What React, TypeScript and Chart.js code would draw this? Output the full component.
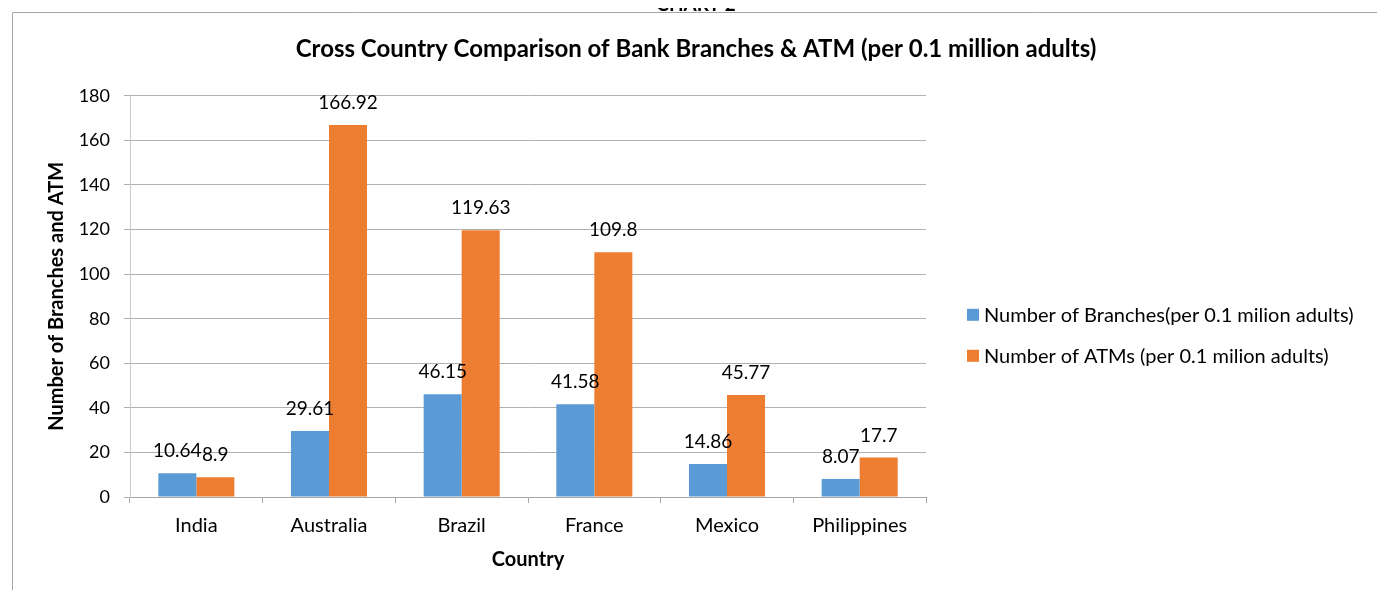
import React, { useEffect, useRef } from 'react';
import { Chart, registerables } from 'chart.js';

Chart.register(...registerables);

const categories = ['India', 'Australia', 'Brazil', 'France', 'Mexico', 'Philippines'];
const branches = [10.64, 29.61, 46.15, 41.58, 14.86, 8.07];
const atms = [8.9, 166.92, 119.63, 109.8, 45.77, 17.7];
const seriesNames = [
  'Number of Branches(per 0.1 milion adults)',
  'Number of ATMs (per 0.1 milion adults)',
];
const seriesColors = ['#5B9BD5', '#ED7D31'];
const yMin = 0;
const yMax = 180;
const yStep = 20;
const captionText = 'CHART 2';

const FONT = 'Lato, "Liberation Sans", sans-serif';

const framePlugin = {
  id: 'frame',
  afterDraw(chart: any) {
    const ctx = chart.ctx;
    ctx.save();
    ctx.strokeStyle = '#A6A6A6';
    ctx.lineWidth = 1;
    ctx.beginPath();
    ctx.moveTo(12.5, chart.height + 5);
    ctx.lineTo(12.5, 12.5);
    ctx.lineTo(1379.5, 12.5);
    ctx.lineTo(1379.5, chart.height + 5);
    ctx.stroke();
    ctx.font = `bold 19px ${FONT}`;
    ctx.fillStyle = '#000000';
    ctx.textAlign = 'center';
    ctx.textBaseline = 'alphabetic';
    ctx.fillText(captionText, 696, 11);
    ctx.restore();
  },
};

const dataLabelPlugin = {
  id: 'dataLabels',
  afterDatasetsDraw(chart: any) {
    const ctx = chart.ctx;
    ctx.save();
    ctx.font = `19px ${FONT}`;
    ctx.fillStyle = '#000';
    ctx.textAlign = 'center';
    ctx.textBaseline = 'alphabetic';
    chart.data.datasets.forEach((ds: any, di: number) => {
      const meta = chart.getDatasetMeta(di);
      meta.data.forEach((bar: any, i: number) => {
        ctx.fillText(String(ds.data[i]), bar.x, bar.y - 16);
      });
    });
    ctx.restore();
  },
};

const legendPlugin = {
  id: 'customLegend',
  afterDraw(chart: any) {
    const ctx = chart.ctx;
    const area = chart.chartArea;
    ctx.save();
    ctx.font = `20px ${FONT}`;
    ctx.textBaseline = 'middle';
    ctx.textAlign = 'left';
    chart.data.datasets.forEach((ds: any, i: number) => {
      const x = area.right + 41;
      const y = area.top + 219 + i * 41;
      ctx.fillStyle = ds.backgroundColor;
      ctx.fillRect(x, y - 6, 12, 12);
      ctx.fillStyle = '#000';
      ctx.fillText(ds.label, x + 17, y + 1);
    });
    ctx.restore();
  },
};

export default function App() {
  const canvasRef = useRef<HTMLCanvasElement | null>(null);

  useEffect(() => {
    if (!canvasRef.current) return;
    const chart = new Chart(canvasRef.current, {
      type: 'bar',
      data: {
        labels: categories,
        datasets: [
          {
            label: seriesNames[0],
            data: branches,
            backgroundColor: seriesColors[0],
            categoryPercentage: 0.573,
            barPercentage: 1,
          },
          {
            label: seriesNames[1],
            data: atms,
            backgroundColor: seriesColors[1],
            categoryPercentage: 0.573,
            barPercentage: 1,
          },
        ],
      },
      options: {
        animation: false,
        responsive: false,
        maintainAspectRatio: false,
        layout: { padding: { left: 13, top: 13, right: 6, bottom: 0 } },
        plugins: {
          legend: { display: false },
          tooltip: { enabled: false },
          title: {
            display: true,
            text: 'Cross Country Comparison of Bank Branches & ATM (per 0.1 million adults)',
            color: '#000',
            font: { family: FONT, size: 24, weight: 'bold', lineHeight: 1.2 },
            padding: { top: 22, bottom: 32 },
          },
        },
        scales: {
          x: {
            offset: true,
            grid: {
              offset: true,
              drawOnChartArea: false,
              drawTicks: true,
              tickLength: 6,
              color: '#A6A6A6',
            },
            border: { display: true, color: '#A6A6A6' },
            ticks: {
              color: '#000',
              font: { family: FONT, size: 20 },
              padding: 11,
              maxRotation: 0,
            },
            title: {
              display: true,
              text: 'Country',
              color: '#000',
              font: { family: FONT, size: 20, weight: 'bold', lineHeight: 1.2 },
              padding: { top: 0, bottom: 26 },
            },
            afterFit(scale: any) {
              scale.height = 101;
            },
          },
          y: {
            min: yMin,
            max: yMax,
            grid: {
              color: '#B0B0B0',
              drawTicks: true,
              tickLength: 6,
            },
            border: { display: true, color: '#C8C8C8' },
            ticks: {
              stepSize: yStep,
              color: '#000',
              font: { family: FONT, size: 18 },
              padding: 14,
            },
            title: {
              display: true,
              text: 'Number of Branches and ATM',
              color: '#000',
              font: { family: FONT, size: 20, weight: 'bold', lineHeight: 1.2 },
              padding: { top: 32, bottom: 0 },
            },
            afterFit(scale: any) {
              scale.width = 117;
            },
          },
          legendSpace: {
            type: 'linear',
            position: 'right',
            display: true,
            grid: { display: false, drawTicks: false },
            border: { display: false },
            ticks: { display: false },
            title: { display: false },
            afterFit(scale: any) {
              scale.width = 453;
            },
          },
        },
      },
      plugins: [framePlugin, dataLabelPlugin, legendPlugin],
    });
    return () => chart.destroy();
  }, []);

  return (
    <div style={{ position: 'relative', width: 1385, height: 598, margin: -8, overflow: 'hidden', background: '#fff' }}>
      <canvas ref={canvasRef} width={1385} height={598} style={{ display: 'block' }} />
    </div>
  );
}
